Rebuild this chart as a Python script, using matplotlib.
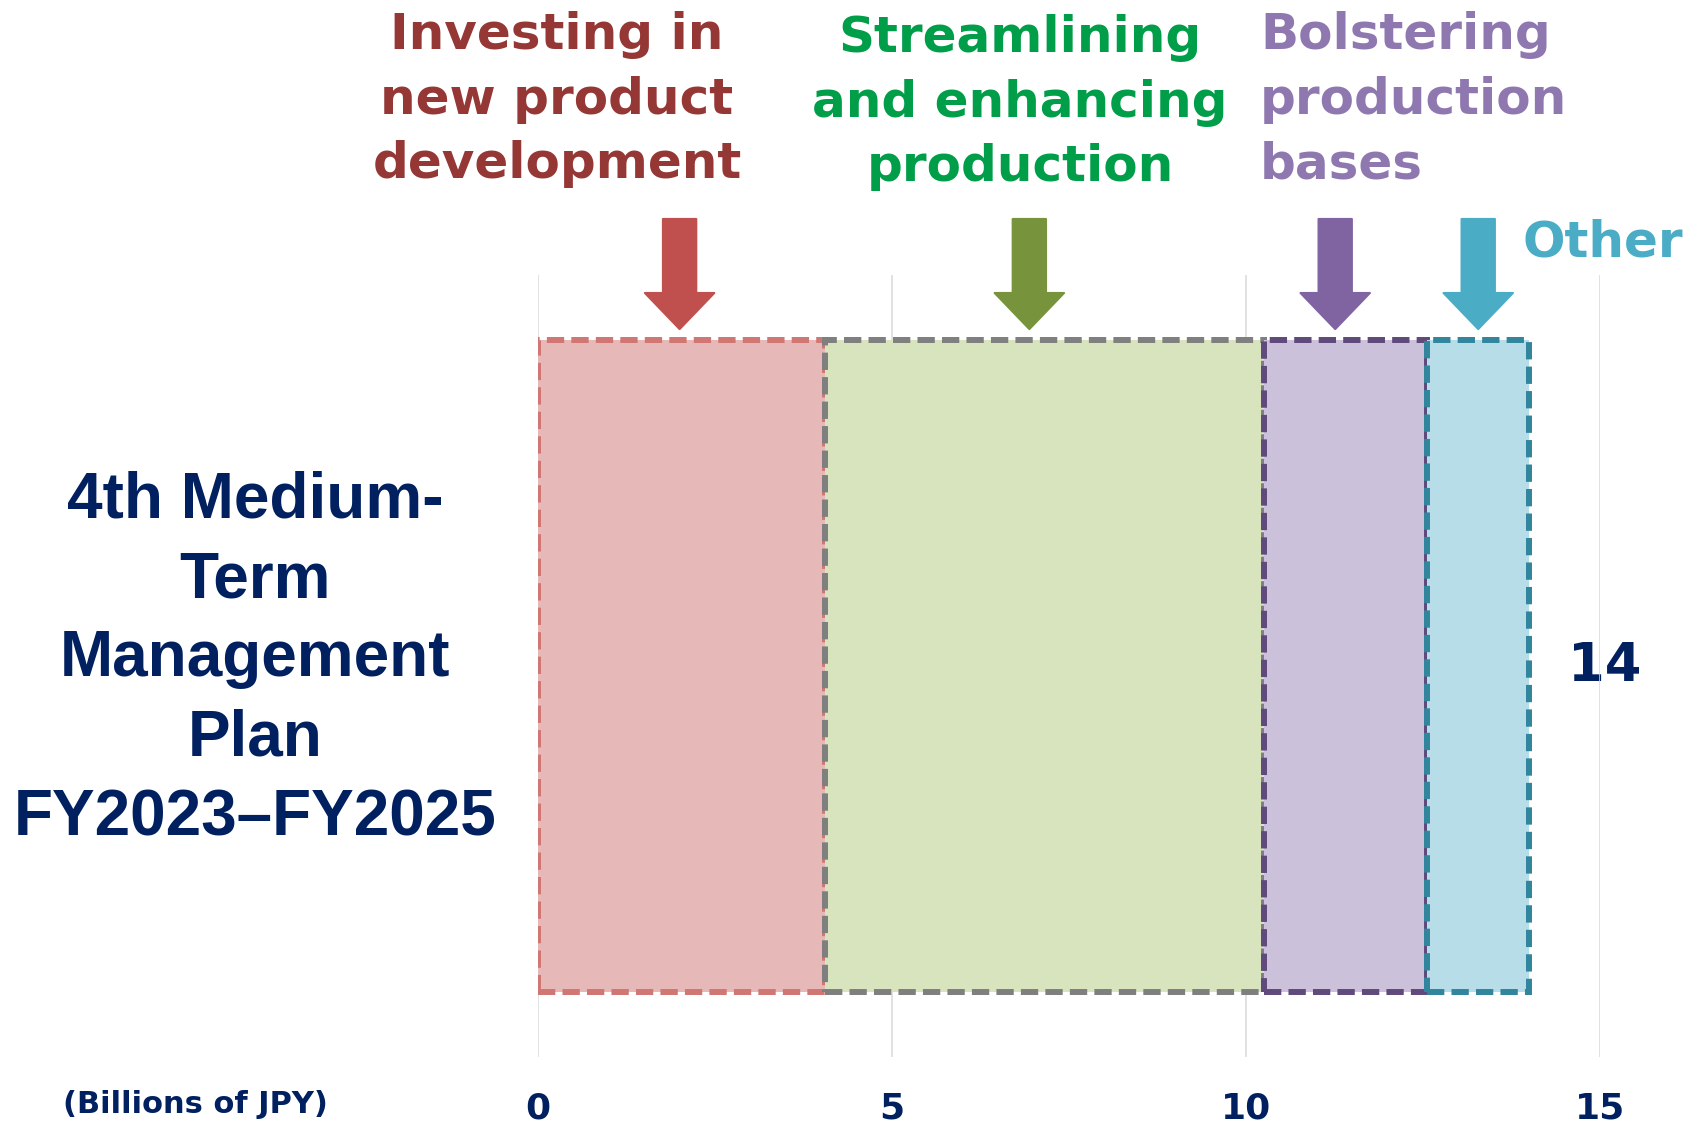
import matplotlib
matplotlib.use('Agg')
import matplotlib.pyplot as plt

# investment breakdown, billions of JPY
segments = ['Investing in\nnew product\ndevelopment',
            'Streamlining\nand enhancing\nproduction',
            'Bolstering\nproduction\nbases',
            'Other']
values = [4.05, 6.2, 2.3, 1.45]
arrow_x = [2.0, 6.94, 11.26, 13.28]
total_label = '14'
xticks = [0, 5, 10, 15]

fills = ['#E6B9B8', '#D7E4BD', '#CCC1DA', '#B7DEE8']
edges = ['#D07673', '#7F7F7F', '#604A7B', '#31859C']
arrow_colors = ['#C0504D', '#77933C', '#8064A2', '#4BACC6']
text_colors = ['#953735', '#009E49', '#8F78B0', '#4BACC6']
navy = '#002060'

fig = plt.figure(figsize=(16.9, 11.24), dpi=100)
ax = fig.add_axes([538 / 1690, 1 - 1057 / 1124, 1062 / 1690, 782 / 1124])

# stacked horizontal bar
left = 0
for v, fc, ec in zip(values, fills, edges):
    ax.barh(0, v, left=left, height=1, color=fc, edgecolor=ec, lw=4.3,
            ls=(0, (2.9, 1.2)), zorder=2)
    left += v

ax.set_xlim(0, 15)
ax.set_ylim(-0.6, 0.6)
ax.set_xticks(xticks)
ax.set_xticklabels([str(t) for t in xticks], fontsize=26, fontweight='bold',
                   color=navy, family='DejaVu Sans')
ax.tick_params(axis='x', length=0, pad=25)
ax.set_yticks([])
ax.grid(axis='x', color='#D9D9D9', lw=1.1, zorder=1)
ax.set_axisbelow(True)
for s in ax.spines.values():
    s.set_visible(False)

# arrows pointing down onto each segment
for x, c in zip(arrow_x, arrow_colors):
    ax.annotate('', xy=(x, 0.517), xytext=(x, 0.686), annotation_clip=False,
                arrowprops=dict(arrowstyle='simple,head_length=26,head_width=50,tail_width=24',
                                mutation_scale=1, shrinkA=0, shrinkB=0,
                                fc=c, ec=c, lw=1.5, joinstyle='round'))

# total label
ax.text(sum(values) + 0.55, 0, total_label, fontsize=38, fontweight='bold',
        color=navy, ha='left', va='center', zorder=0.5)

# category labels above
fig.text(0.3296, 0.9902, segments[0], fontsize=36, fontweight='bold', color=text_colors[0],
         ha='center', va='top', multialignment='center', linespacing=1.44)
fig.text(0.6036, 0.9875, segments[1], fontsize=36, fontweight='bold', color=text_colors[1],
         ha='center', va='top', multialignment='center', linespacing=1.44)
fig.text(0.7456, 0.9902, segments[2], fontsize=36, fontweight='bold', color=text_colors[2],
         ha='left', va='top', linespacing=1.44)
fig.text(0.9006, 0.8052, segments[3], fontsize=36, fontweight='bold', color=text_colors[3],
         ha='left', va='top')

# plan title on the left
fig.text(0.1509, 0.5810, '4th Medium-\nTerm\nManagement\nPlan\nFY2023–FY2025',
         fontsize=46, fontweight='bold', color=navy, family='Liberation Sans',
         ha='center', va='top', multialignment='center', linespacing=1.41)

fig.text(0.0373, 0.0098, '(Billions of JPY)', fontsize=22, fontweight='bold',
         color=navy, ha='left', va='baseline')

fig.savefig('out.png', dpi=100)
